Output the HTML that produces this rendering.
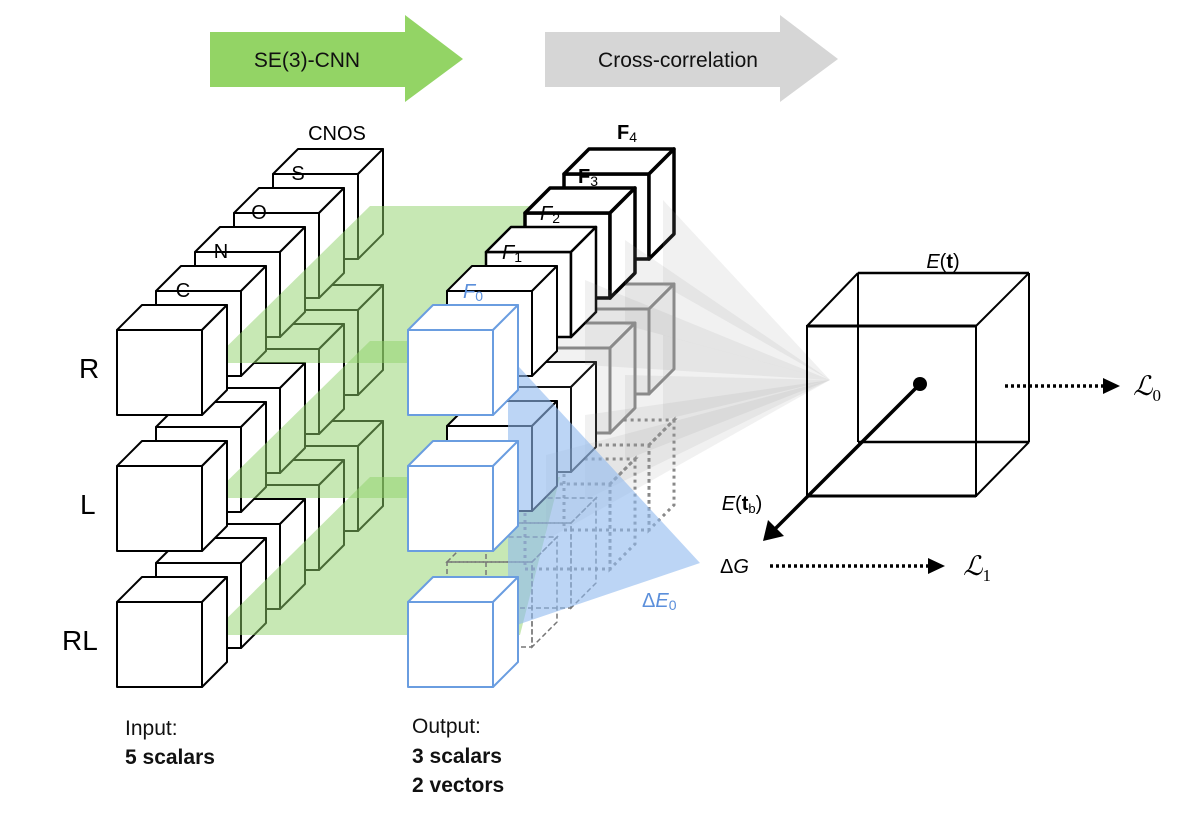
<!DOCTYPE html>
<html><head><meta charset="utf-8"><style>
html,body{margin:0;padding:0;background:#fff;}
svg{display:block;font-family:"Liberation Sans",sans-serif;}
</style></head><body>
<svg width="1200" height="819" viewBox="0 0 1200 819" xmlns="http://www.w3.org/2000/svg">
<defs>
<g id="c">
<rect x="0" y="0" width="85" height="85"/>
<polygon points="0,0 25,-25 110,-25 85,0"/>
<polygon points="85,0 110,-25 110,60 85,85"/>
</g>
</defs>

<polygon points="210,32 405,32 405,15 463,59 405,102 405,87 210,87" fill="#93d465"/>
<text x="307" y="67" font-size="21" text-anchor="middle" fill="#111">SE(3)-CNN</text>
<polygon points="545,32 780,32 780,15 838,59 780,102 780,87 545,87" fill="#d6d6d6"/>
<text x="678" y="67" font-size="21" text-anchor="middle" fill="#111">Cross-correlation</text>

<g fill="#fff" stroke="#000" stroke-width="2" stroke-linejoin="round">
<use href="#c" x="273" y="174"/><use href="#c" x="273" y="310"/><use href="#c" x="273" y="446"/>
<use href="#c" x="234" y="213"/><use href="#c" x="234" y="349"/><use href="#c" x="234" y="485"/>
<use href="#c" x="195" y="252"/><use href="#c" x="195" y="388"/><use href="#c" x="195" y="524"/>
<use href="#c" x="156" y="291"/><use href="#c" x="156" y="427"/><use href="#c" x="156" y="563"/>
</g>
<g fill="#8fd16a" fill-opacity="0.5">
<polygon points="210,363 520,363 600,206 370,206"/>
<polygon points="210,498 520,498 600,341 370,341"/>
<polygon points="210,635 520,635 560,477 370,477"/>
</g>
<g fill="#fff" stroke="#000" stroke-width="2" stroke-linejoin="round">
<use href="#c" x="117" y="330"/><use href="#c" x="117" y="466"/><use href="#c" x="117" y="602"/>
</g>
<g font-size="20" text-anchor="middle" fill="#000">
<text x="183" y="297">C</text><text x="221" y="258">N</text><text x="259" y="219">O</text><text x="298" y="180">S</text>
<text x="337" y="140">CNOS</text>
</g>
<g font-size="28" fill="#000">
<text x="79" y="378">R</text><text x="80" y="514">L</text><text x="62" y="650">RL</text>
</g>

<g fill="none" stroke="#888" stroke-width="3" stroke-dasharray="3 4">
<use href="#c" x="564" y="445"/><use href="#c" x="525" y="484"/>
</g>
<g fill="none" stroke="#777" stroke-width="1.5" stroke-dasharray="5 3">
<use href="#c" x="486" y="523"/><use href="#c" x="447" y="562"/>
</g>
<g fill="#fff" stroke-linejoin="round">
<use href="#c" x="564" y="174" stroke="#000" stroke-width="3.5"/>
<use href="#c" x="564" y="309" stroke="#888" stroke-width="3" fill="#f2f2f2"/>
<use href="#c" x="525" y="213" stroke="#000" stroke-width="3.5"/>
<use href="#c" x="525" y="348" stroke="#888" stroke-width="3" fill="#f2f2f2"/>
<use href="#c" x="486" y="252" stroke="#000" stroke-width="2.5"/>
<use href="#c" x="486" y="387" stroke="#111" stroke-width="2"/>
<use href="#c" x="447" y="291" stroke="#000" stroke-width="2"/>
<use href="#c" x="447" y="426" stroke="#000" stroke-width="2"/>
</g>
<g fill="#999" fill-opacity="0.14">
<polygon points="663,200 663,285 830,380"/>
<polygon points="625,240 625,325 830,380"/>
<polygon points="585,280 585,365 830,380"/>
<polygon points="663,335 663,420 830,380"/>
<polygon points="625,375 625,460 830,380"/>
<polygon points="585,415 585,500 830,380"/>
<polygon points="546,455 546,540 830,380"/>
</g>
<polygon points="508,355 508,628 700,563" fill="#90b9ee" fill-opacity="0.6"/>
<g fill="#fff" stroke="#6a9de0" stroke-width="2" stroke-linejoin="round">
<use href="#c" x="408" y="330"/><use href="#c" x="408" y="466"/><use href="#c" x="408" y="602"/>
</g>
<g font-size="20">
<text x="463" y="298" font-style="italic" fill="#5b8fdb">F<tspan font-size="14" dy="3" font-style="normal">0</tspan></text>
<text x="502" y="259" font-style="italic">F<tspan font-size="14" dy="3" font-style="normal">1</tspan></text>
<text x="540" y="220" font-style="italic">F<tspan font-size="14" dy="3" font-style="normal">2</tspan></text>
<text x="578" y="183" font-weight="bold">F<tspan font-size="14" dy="3" font-weight="normal">3</tspan></text>
<text x="617" y="139" font-weight="bold">F<tspan font-size="14" dy="3" font-weight="normal">4</tspan></text>
<text x="642" y="607" fill="#5b8fdb">Δ<tspan font-style="italic">E</tspan><tspan font-size="14" dy="3">0</tspan></text>
</g>

<g fill="none" stroke="#000" stroke-width="2">
<line x1="858" y1="273" x2="858" y2="442"/>
<line x1="858" y1="442" x2="1029" y2="442" stroke-width="2.5"/>
<line x1="807" y1="326" x2="858" y2="273"/>
<line x1="858" y1="273" x2="1029" y2="273" stroke-width="2.5"/>
<line x1="1029" y1="273" x2="1029" y2="442"/>
<line x1="976" y1="326" x2="1029" y2="273"/>
<line x1="976" y1="496" x2="1029" y2="442"/>
<rect x="807" y="326" width="169" height="170" stroke-width="2"/>
<line x1="807" y1="326" x2="976" y2="326" stroke-width="3"/>
<line x1="807" y1="496" x2="976" y2="496" stroke-width="3"/>
</g>
<circle cx="920" cy="384" r="7" fill="#000"/>
<line x1="920" y1="384" x2="772" y2="532" stroke="#000" stroke-width="3.5"/>
<polygon points="763,541 768,520 784,536" fill="#000"/>
<text x="943" y="268" font-size="20" text-anchor="middle"><tspan font-style="italic">E</tspan>(<tspan font-weight="bold">t</tspan>)</text>
<text x="742" y="510" font-size="20" text-anchor="middle"><tspan font-style="italic">E</tspan>(<tspan font-weight="bold">t</tspan><tspan font-size="13" dy="3">b</tspan><tspan dy="-3">)</tspan></text>
<line x1="1005" y1="386" x2="1105" y2="386" stroke="#000" stroke-width="3.5" stroke-dasharray="3 3"/>
<polygon points="1103,378 1120,386 1103,394" fill="#000"/>
<text x="1133" y="395" font-size="27" font-style="italic" font-family="Liberation Serif, serif">ℒ<tspan font-size="17" dy="6" font-style="normal">0</tspan></text>
<text x="720" y="573" font-size="20">Δ<tspan font-style="italic">G</tspan></text>
<line x1="770" y1="566" x2="930" y2="566" stroke="#000" stroke-width="3.5" stroke-dasharray="3 3"/>
<polygon points="928,558 945,566 928,574" fill="#000"/>
<text x="963" y="575" font-size="27" font-style="italic" font-family="Liberation Serif, serif">ℒ<tspan font-size="17" dy="6" font-style="normal">1</tspan></text>

<g font-size="21" fill="#111">
<text x="125" y="735">Input:</text>
<text x="125" y="764" font-weight="bold">5 scalars</text>
<text x="412" y="733">Output:</text>
<text x="412" y="763" font-weight="bold">3 scalars</text>
<text x="412" y="792" font-weight="bold">2 vectors</text>
</g>
</svg>
</body></html>
